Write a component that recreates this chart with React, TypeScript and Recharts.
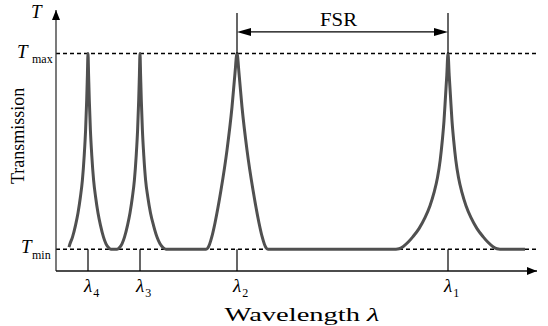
import React from "react";
import { LineChart, Line, XAxis, YAxis, ReferenceLine, ReferenceDot } from "recharts";

// Wavelength (arbitrary units) and transmission values
const wavelength = [
  // lambda 4
  13, 14, 16.5, 19.5, 22, 24.4, 26.4, 28.2, 29.6, 30.7, 31.4, 32,
  32.6, 33.3, 34.4, 35.8, 37.6, 39.6, 42, 44.5, 47.5, 50, 52.5, 55, 58, 61,
  // lambda 3
  63.5, 66, 68.5, 71.5, 74, 76.4, 78.4, 80.2, 81.6, 82.7, 83.4, 84,
  84.6, 85.3, 86.4, 87.8, 89.6, 91.8, 94.5, 97.5, 101, 104, 107, 110,
  // lambda 2
  150, 151.5, 153.5, 156, 159, 165, 171, 176, 179, 181,
  183, 186, 191, 197, 203, 206, 208.5, 210.5, 212,
  // lambda 1
  340, 343, 347, 352, 357, 363, 369, 374, 378, 381.5, 384.2, 386.3, 388, 389.6, 390.8, 392,
  393.2, 394.4, 396, 397.7, 399.8, 402.5, 406, 410, 415, 421, 427, 432, 437, 441, 444,
  469,
];
const transmission = [
  // lambda 4
  0.11, 0.125, 0.156, 0.21, 0.267, 0.34, 0.418, 0.53, 0.648, 0.786, 0.9, 1.0,
  0.9, 0.786, 0.648, 0.53, 0.418, 0.34, 0.267, 0.21, 0.156, 0.125, 0.108, 0.1, 0.1, 0.1,
  // lambda 3
  0.108, 0.125, 0.156, 0.21, 0.267, 0.34, 0.418, 0.53, 0.648, 0.786, 0.9, 1.0,
  0.9, 0.786, 0.648, 0.53, 0.418, 0.34, 0.267, 0.21, 0.156, 0.125, 0.108, 0.1,
  // lambda 2
  0.1, 0.104, 0.122, 0.16, 0.221, 0.372, 0.556, 0.754, 0.91, 1.0,
  0.91, 0.754, 0.556, 0.372, 0.221, 0.16, 0.122, 0.104, 0.1,
  // lambda 1
  0.1, 0.102, 0.112, 0.132, 0.158, 0.195, 0.245, 0.3, 0.36, 0.43, 0.51, 0.6, 0.69, 0.81, 0.9, 1.0,
  0.9, 0.81, 0.69, 0.6, 0.51, 0.43, 0.36, 0.3, 0.245, 0.195, 0.158, 0.132, 0.112, 0.102, 0.1,
  0.1,
];

const T_MAX = 1.0;
const T_MIN = 0.1;
const lambdaTicks = [32, 84, 181, 392];
const lambdaLabels = ["4", "3", "2", "1"];
const fsrFrom = 181;
const fsrTo = 392;
const X_MAX = 481;
const Y_MAX = 1.2;
const FSR_LEVEL = 1.099;
const FSR_TOP = 1.186;

const data = wavelength.map((x, i) => ({ x, t: transmission[i] }));

const FONT = "Liberation Serif, DejaVu Serif, serif";

const FsrArrow = (props: any) => {
  const { x1, y1, x2 } = props;
  const y = y1;
  return (
    <g>
      <line x1={x1 + 8} y1={y} x2={x2 - 8} y2={y} stroke="#000" strokeWidth={1.3} />
      <polygon points={`${x1},${y} ${x1 + 14},${y - 4} ${x1 + 14},${y + 4}`} fill="#000" />
      <polygon points={`${x2},${y} ${x2 - 14},${y - 4} ${x2 - 14},${y + 4}`} fill="#000" />
      <text
        x={(x1 + x2) / 2 - 4}
        y={y - 6}
        textAnchor="middle"
        style={{ fontFamily: FONT, fontSize: 19 }}
        textLength={37}
        lengthAdjust="spacingAndGlyphs"
        fill="#000"
      >
        FSR
      </text>
    </g>
  );
};

export default function App() {
  return (
    <div style={{ position: "absolute", left: 0, top: 0, background: "#fff" }}>
      <LineChart
        width={548}
        height={326}
        data={data}
        margin={{ top: 10, right: 11, bottom: 55, left: 56 }}
      >
        <XAxis dataKey="x" type="number" domain={[0, X_MAX]} hide allowDataOverflow />
        <YAxis type="number" domain={[0, Y_MAX]} hide allowDataOverflow />

        <ReferenceLine y={T_MAX} stroke="#000" strokeWidth={1.5} strokeDasharray="4 3" />
        <ReferenceLine y={T_MIN} stroke="#000" strokeWidth={1.5} strokeDasharray="4 3" />

        <Line
          type="monotone"
          dataKey="t"
          stroke="#505050"
          strokeWidth={3}
          dot={false}
          activeDot={false}
          isAnimationActive={false}
        />

        <ReferenceLine x={0} stroke="#333" strokeWidth={1.3} />
        <ReferenceLine y={0} stroke="#111" strokeWidth={1.3} />

        {lambdaTicks.map((x) => (
          <ReferenceLine
            key={"tick" + x}
            segment={[{ x, y: 0 }, { x, y: T_MIN }]}
            stroke="#000"
            strokeWidth={1.2}
          />
        ))}
        {[fsrFrom, fsrTo].map((x) => (
          <ReferenceLine
            key={"top" + x}
            segment={[{ x, y: T_MAX }, { x, y: FSR_TOP }]}
            stroke="#000"
            strokeWidth={1.2}
            ifOverflow="visible"
          />
        ))}
        <ReferenceLine
          segment={[{ x: fsrFrom, y: FSR_LEVEL }, { x: fsrTo, y: FSR_LEVEL }]}
          ifOverflow="visible"
          shape={FsrArrow}
        />

        {/* axis arrowheads */}
        <ReferenceDot
          x={0}
          y={Y_MAX}
          ifOverflow="visible"
          shape={(p: any) => (
            <polygon points={`${p.cx},${p.cy} ${p.cx - 4},${p.cy + 10} ${p.cx + 4},${p.cy + 10}`} fill="#000" />
          )}
        />
        <ReferenceDot
          x={X_MAX}
          y={0}
          ifOverflow="visible"
          shape={(p: any) => (
            <polygon points={`${p.cx},${p.cy} ${p.cx - 10},${p.cy - 4} ${p.cx - 10},${p.cy + 4}`} fill="#000" />
          )}
        />

        {/* lambda tick labels */}
        {lambdaTicks.map((x, i) => (
          <ReferenceDot
            key={"lbl" + x}
            x={x}
            y={0}
            ifOverflow="visible"
            shape={(p: any) => (
              <text x={p.cx - 4} y={p.cy + 21} style={{ fontFamily: FONT, fontSize: 19, fontStyle: "italic" }} fill="#000">
                λ
                <tspan style={{ fontSize: 12, fontStyle: "normal" }} dx={1} dy={5}>
                  {lambdaLabels[i]}
                </tspan>
              </text>
            )}
          />
        ))}

        {/* y-axis labels */}
        <ReferenceDot
          x={0}
          y={Y_MAX}
          ifOverflow="visible"
          shape={(p: any) => (
            <text x={p.cx - 25} y={p.cy + 8} style={{ fontFamily: FONT, fontSize: 19, fontStyle: "italic" }} fill="#000">
              T
            </text>
          )}
        />
        <ReferenceDot
          x={0}
          y={T_MAX}
          ifOverflow="visible"
          shape={(p: any) => (
            <g>
              <text x={p.cx - 39} y={p.cy + 4} style={{ fontFamily: FONT, fontSize: 19, fontStyle: "italic" }} fill="#000">
                T
              </text>
              <text x={p.cx - 24} y={p.cy + 9} style={{ fontFamily: FONT, fontSize: 12 }} fill="#000">
                max
              </text>
            </g>
          )}
        />
        <ReferenceDot
          x={0}
          y={T_MIN}
          ifOverflow="visible"
          shape={(p: any) => (
            <g>
              <text x={p.cx - 35} y={p.cy + 4} style={{ fontFamily: FONT, fontSize: 19, fontStyle: "italic" }} fill="#000">
                T
              </text>
              <text x={p.cx - 24} y={p.cy + 10} style={{ fontFamily: FONT, fontSize: 12 }} fill="#000">
                min
              </text>
            </g>
          )}
        />
        <ReferenceDot
          x={0}
          y={0.621}
          ifOverflow="visible"
          shape={(p: any) => (
            <text
              x={p.cx - 32}
              y={p.cy}
              transform={`rotate(-90 ${p.cx - 32} ${p.cy})`}
              textAnchor="middle"
              style={{ fontFamily: FONT, fontSize: 18 }}
              fill="#000"
            >
              Transmission
            </text>
          )}
        />
        <ReferenceDot
          x={246}
          y={0}
          ifOverflow="visible"
          shape={(p: any) => (
            <text
              x={p.cx}
              y={p.cy + 50}
              textAnchor="middle"
              style={{ fontFamily: FONT, fontSize: 19 }}
              textLength={155}
              lengthAdjust="spacingAndGlyphs"
              fill="#000"
            >
              Wavelength <tspan style={{ fontStyle: "italic" }}>λ</tspan>
            </text>
          )}
        />
      </LineChart>
    </div>
  );
}
